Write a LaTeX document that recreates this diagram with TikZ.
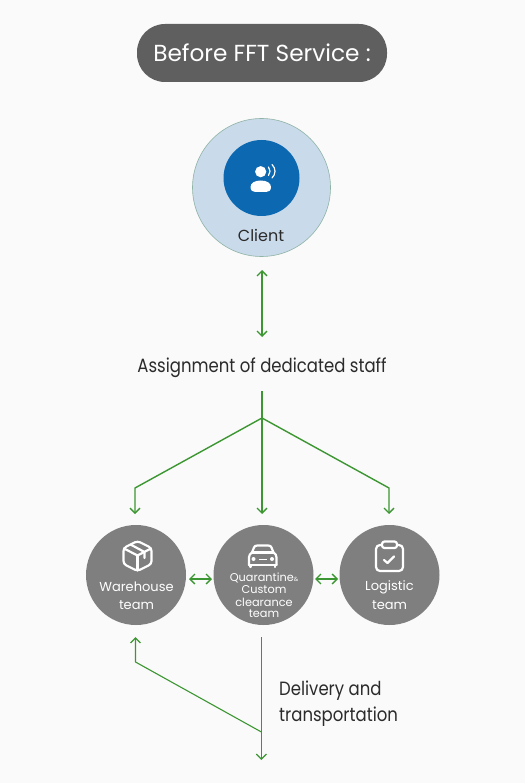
\documentclass[tikz,border=0pt]{standalone}
\usepackage{fontspec}
\setmainfont{Poppins}
\newfontfamily\narrowface[FakeStretch=.86]{Poppins}
\definecolor{bg}{HTML}{FAFAFA}
\definecolor{pill}{HTML}{5F5F5F}
\definecolor{disc}{HTML}{7F7F7F}
\definecolor{pale}{HTML}{C9DAEA}
\definecolor{palerim}{HTML}{8FB3A5}
\definecolor{deep}{HTML}{0B68B1}
\definecolor{link}{HTML}{3C9632}
\definecolor{ink}{HTML}{2B2B2B}
\usetikzlibrary{arrows.meta}
\tikzset{
  x=1pt,y=-1pt,
  flow/.style={draw=link,line width=1.5pt,-{Straight Barb[length=5pt,width=10pt,line width=1.3pt]}},
  thin flow/.style={flow,line width=1.1pt},
  twoway/.style={draw=link,line width=1.3pt,{Straight Barb[length=5pt,width=10pt,line width=1.3pt]}-{Straight Barb[length=5pt,width=10pt,line width=1.3pt]}},
  team/.style={circle,fill=disc,minimum size=100pt,inner sep=0pt},
  label/.style={inner sep=0pt,text=ink,font=\narrowface\fontsize{19.2}{19.2}\selectfont},
  whitetext/.style={inner sep=0pt,text=white,align=center},
  glyph/.style={draw=white,line width=2.2pt,line join=round,line cap=round},
}
\begin{document}
\begin{tikzpicture}
\useasboundingbox[fill=bg] (0,0) rectangle (525,783);
% title
\node[fill=pill,rounded corners=28pt,minimum width=250pt,minimum height=58pt,inner sep=0pt,text=white,font=\fontsize{23.2}{23.2}\selectfont] (title) at (262,53) {\raisebox{-1pt}{Before FFT Service :}};
% client
\node[circle,fill=pale,draw=palerim,line width=.6pt,minimum size=138pt,inner sep=0pt] (client) at (261.5,187.5) {};
\node[circle,fill=deep,minimum size=76pt,inner sep=0pt] (clienticon) at (261.5,178) {};
\node[inner sep=0pt,text=ink,font=\fontsize{16}{16}\selectfont] (clientlabel) at (261,235) {Client};
\fill[white] (260.7,171.7) circle (5.6pt);
\fill[white] (250.5,187) .. controls (250.5,183) and (255,180.5) .. (260.7,180.5) .. controls (266.5,180.5) and (271,183) .. (271,187) .. controls (271,190.5) and (269,192) .. (266,192) -- (255.5,192) .. controls (252.5,192) and (250.5,190.5) .. (250.5,187) -- cycle;
\draw[white,line width=1.2pt,line cap=round] (268.5,167) .. controls (270.5,169.5) and (270.5,173) .. (268.5,175.5);
\draw[white,line width=1.2pt,line cap=round] (272,164.5) .. controls (276,168.5) and (276,174) .. (272,178);
% teams
\node[team] (ware) at (136,575) {};
\node[team] (quar) at (263.5,575) {};
\node[team] (logi) at (389.5,575) {};
% box icon
\draw[glyph,rounded corners=3pt] (137.5,541) -- (151.5,548) -- (151.5,564) -- (137.5,571) -- (123.5,564) -- (123.5,548) -- cycle;
\draw[glyph] (124,548.5) -- (137.5,555.5) -- (151,548.5);
\draw[glyph] (137.5,555.5) -- (137.5,570.5);
\draw[glyph] (130.5,544.5) -- (144.5,552) -- (144.5,558);
% car icon
\draw[glyph] (249,565) -- (249,557.5) .. controls (249,555) and (250,554) .. (252,552.5) -- (254,547.5) .. controls (254.5,546) and (255.5,545.5) .. (257.5,545.5) -- (268,545.5) .. controls (270,545.5) and (271,546) .. (271.5,547.5) -- (273.5,552.5) .. controls (275.5,554) and (276.5,555) .. (276.5,557.5) -- (276.5,565);
\draw[glyph] (252,552.5) -- (273.5,552.5);
\draw[glyph] (249,565) -- (276.5,565);
\draw[glyph] (250.5,565) -- (250.5,567);
\draw[glyph] (275,565) -- (275,567);
\fill[white] (253.5,559) circle (2pt) (272,559) circle (2pt);
\draw[white,line width=1.6pt] (258.5,559.5) -- (267,559.5);
% clipboard icon
\draw[glyph,rounded corners=4pt] (381.5,545) -- (376,545) -- (376,571) -- (403,571) -- (403,545) -- (397.5,545);
\draw[glyph,rounded corners=2.5pt] (382,541.5) rectangle (397,548);
\draw[glyph] (384,560) -- (387.5,563) -- (394,556.5);
% team labels
\node[whitetext,font=\fontsize{13}{13}\selectfont] (warea) at (136.5,587) {Warehouse};
\node[whitetext,font=\fontsize{13}{13}\selectfont] (wareb) at (136.5,605) {team};
\node[whitetext,font=\fontsize{13}{13}\selectfont] (logia) at (389.5,587) {Logistic};
\node[whitetext,font=\fontsize{13}{13}\selectfont] (logib) at (389.5,605) {team};
\node[whitetext,font=\fontsize{11.3}{11.3}\selectfont] (quara) at (264,578) {Quarantine{\fontsize{6}{6}\selectfont\&}};
\node[whitetext,font=\fontsize{11.3}{11.3}\selectfont] (quarb) at (264,590) {Custom};
\node[whitetext,font=\fontsize{11.3}{11.3}\selectfont] (quarc) at (264,602) {clearance};
\node[whitetext,font=\fontsize{11.3}{11.3}\selectfont] (quard) at (264,614) {team};
% texts
\node[label] (staff) at (262,367.5) {Assignment of dedicated staff};
\node[label,anchor=west] (deliv) at (279,691) {Delivery and};
\node[label,anchor=west] (trans) at (279,717) {transportation};
% connectors
\coordinate (ca) at (262,270); \coordinate (cb) at (262,337);
\coordinate (sa) at (262,391); \coordinate (sj) at (262,418); \coordinate (sb) at (262,514);
\coordinate (la) at (135,488); \coordinate (lb) at (135,514);
\coordinate (ra) at (389,488); \coordinate (rb) at (389,514);
\coordinate (da) at (261.4,637); \coordinate (dj) at (261.4,732); \coordinate (db) at (261.4,760);
\coordinate (ua) at (135.5,662); \coordinate (ub) at (135.5,637);
\coordinate (ha) at (189,579); \coordinate (hb) at (212,579);
\coordinate (ka) at (315,579); \coordinate (kb) at (338,579);
\draw[twoway] (ca) -- (cb);
\draw[flow] (sa) -- (sb);
\draw[flow,line width=1.4pt,line join=round] (sj) -- (la) -- (lb);
\draw[flow,line width=1.4pt,line join=round] (sj) -- (ra) -- (rb);
\draw[thin flow] (da) -- (db);
\draw[thin flow,line join=round] (dj) -- (ua) -- (ub);
\draw[twoway] (ha) -- (hb);
\draw[twoway] (ka) -- (kb);
\end{tikzpicture}
\end{document}
